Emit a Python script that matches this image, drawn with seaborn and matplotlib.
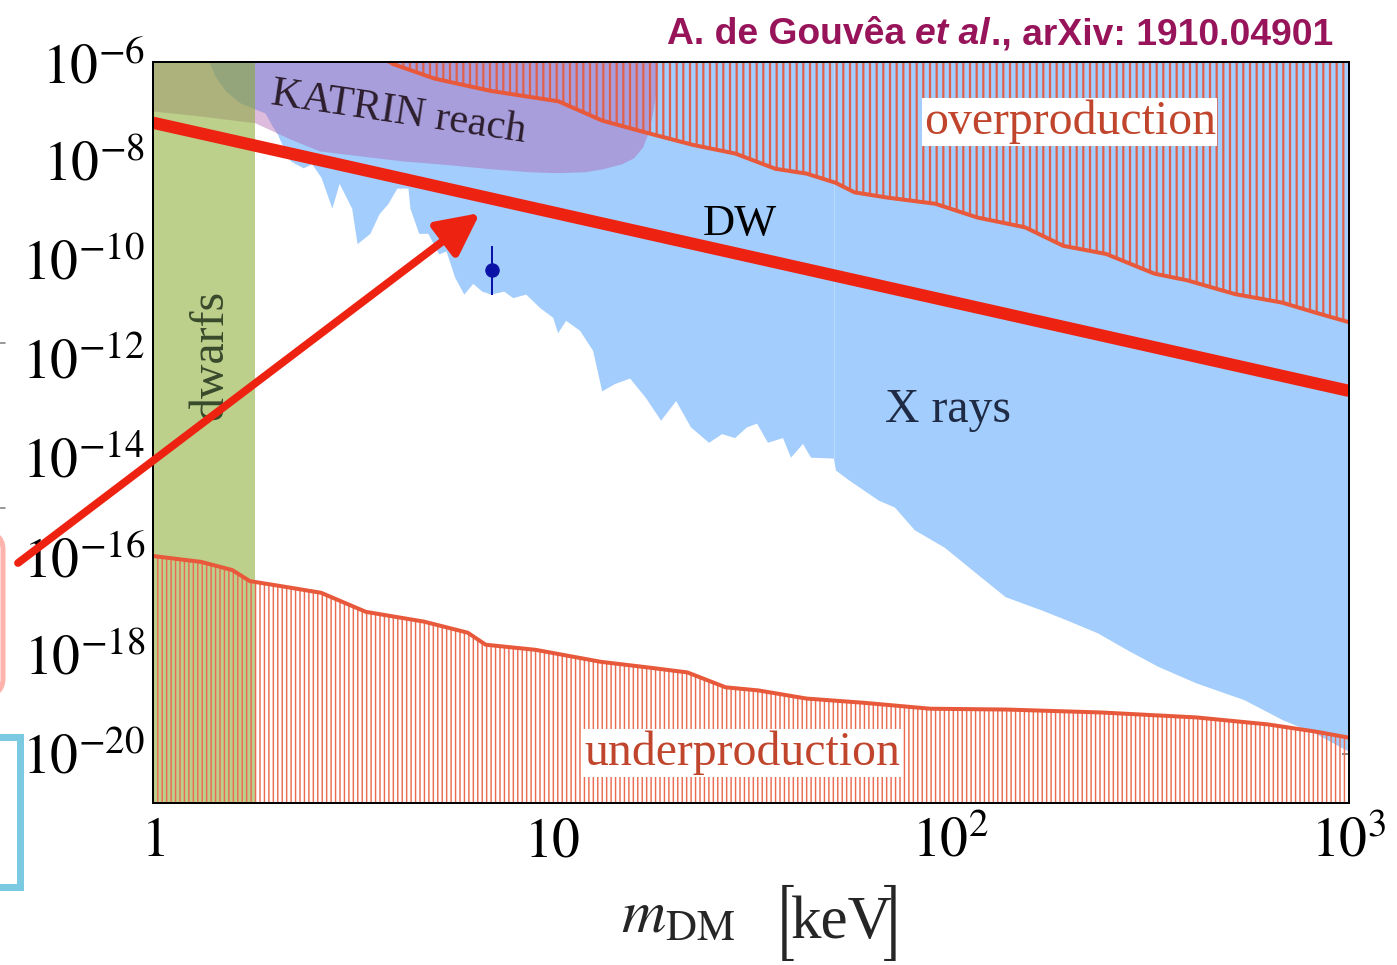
import matplotlib
matplotlib.use("Agg")
import matplotlib.pyplot as plt
import seaborn as sns
from matplotlib.patches import FancyArrowPatch, FancyBboxPatch
from matplotlib.lines import Line2D
from matplotlib.ticker import FixedLocator, FixedFormatter, NullLocator

# ---------------- data ----------------
# X-ray bound: lower edge of the blue excluded region (m in keV, mixing)
xray_m = [1.37, 1.43, 1.52, 1.65, 1.80, 1.91, 1.99, 2.05, 2.14, 2.21,
          2.38, 2.50, 2.64, 2.81, 2.93, 3.15, 3.25, 3.50, 3.69, 3.88,
          4.09, 4.36, 4.41, 4.64, 4.89, 5.21, 5.43, 5.71, 6.02, 6.34,
          6.68, 7.03, 7.58, 7.99, 8.61, 9.33, 10.06, 10.35, 10.84, 11.75,
          12.67, 13.35, 14.38, 15.69, 17.20, 18.76, 20.46, 22.30, 24.75, 26.68,
          28.75, 30.81, 32.65, 34.78, 37.93, 39.72, 42.57, 44.59, 50.9, 51.5,
          55.5, 66.0, 72.4, 81.2, 96.6, 115.6, 137.3, 169.1, 195.3, 233.6,
          277.7, 332.1, 413.5, 545.6, 679.3, 821.7, 1000.0]
xray_y = [1.2e-6, 5.2e-7, 2.6e-7, 1.5e-7, 1.12e-7, 9.3e-8, 5.1e-8, 3.5e-8, 1.6e-8, 1.0e-8,
          7.2e-9, 8.7e-9, 4.6e-9, 1.1e-9, 3.5e-9, 1.1e-9, 2.1e-10, 3.4e-10, 8.5e-10, 1.35e-9,
          2.8e-9, 2.8e-9, 1.1e-9, 3.4e-10, 3.4e-10, 1.3e-10, 1.5e-10, 4.4e-11, 2.0e-11, 3.3e-11,
          2.3e-11, 2.0e-11, 2.3e-11, 1.7e-11, 2.0e-11, 1.07e-11, 6.8e-12, 3.3e-12, 5.9e-12, 3.7e-12,
          1.45e-12, 2.2e-13, 3.1e-13, 4.0e-13, 1.6e-13, 5.6e-14, 1.4e-13, 4.1e-14, 2.0e-14, 3.0e-14,
          2.5e-14, 4.1e-14, 4.9e-14, 2.0e-14, 2.5e-14, 1.0e-14, 1.9e-14, 1.0e-14, 9.6e-15, 5.5e-15,
          3.5e-15, 1.35e-15, 9.8e-16, 3.4e-16, 1.5e-16, 4.6e-17, 1.5e-17, 8.1e-18, 5.1e-18, 2.8e-18,
          1.26e-18, 5.8e-19, 2.7e-19, 1.23e-19, 4.9e-20, 2.6e-20, 1.1e-20]
xray_join_m = 51.2
xray_join_y = 9.6e-15

# Overproduction boundary
over_m = [3.815, 4.0, 5.09, 7.03, 10.4, 13.4, 17.3, 22.6, 28.9, 36.4, 43.6, 51.5, 57.5,
          69.5, 91.7, 117.0, 154.0, 192.0, 246.0, 325.0, 393.0, 518.0, 679.0, 822.0, 1000.0]
over_y = [1.15e-6, 9.1e-7, 4.6e-7, 2.6e-7, 1.6e-7, 6.5e-8, 3.7e-8, 2.1e-8, 1.4e-8, 6.9e-9,
          5.5e-9, 3.6e-9, 2.3e-9, 1.8e-9, 1.35e-9, 7.1e-10, 4.5e-10, 1.9e-10, 1.3e-10, 5.2e-11,
          3.8e-11, 2.0e-11, 1.35e-11, 8.5e-12, 5.4e-12]

# Underproduction boundary
under_m = [1.0, 1.32, 1.58, 1.75, 2.20, 2.64, 3.42, 4.78, 6.16, 6.83, 9.12, 13.3, 17.6,
           21.9, 27.3, 33.0, 43.6, 60.5, 89.1, 138.0, 239.0, 414.0, 626.0, 822.0, 1000.0]
under_y = [1.0e-16, 7.6e-17, 5.2e-17, 3.1e-17, 2.3e-17, 1.8e-17, 7.4e-18, 4.7e-18, 2.8e-18,
           1.6e-18, 1.26e-18, 7.2e-19, 5.5e-19, 4.4e-19, 2.2e-19, 1.9e-19, 1.3e-19, 1.07e-19,
           8.1e-20, 7.8e-20, 6.8e-20, 5.4e-20, 3.9e-20, 2.8e-20, 2.1e-20]

# KATRIN reach (lower edge)
katrin_m = [1.0, 1.31, 1.80, 2.21, 2.62, 3.30, 4.21, 5.55, 7.03, 8.81, 10.35, 12.1, 13.42,
            14.98, 16.05, 16.91, 17.40, 17.81, 18.12, 18.34, 18.44]
katrin_y = [1.02e-7, 8.1e-8, 5.9e-8, 2.75e-8, 1.58e-8, 1.26e-8, 1.0e-8, 8.3e-9, 6.9e-9, 6.0e-9,
            5.75e-9, 6.0e-9, 6.9e-9, 8.7e-9, 1.15e-8, 1.9e-8, 3.5e-8, 7.4e-8, 1.6e-7, 4.2e-7, 1.3e-6]

# Dwarfs band and Dodelson-Widrow line
dwarfs_m = [1.0, 1.8]
dw_m = [1.0, 1000.0]
dw_y = [5.9e-8, 2.2e-13]

# 3.5 keV line point
point_m = 7.1
point_y = 6.3e-11
point_lo = 1.9e-11
point_hi = 1.9e-10

x_ticks = [1, 10, 100, 1000]
x_tick_labels = [r"$1$", r"$10$", r"$10^{2}$", r"$10^{3}$"]
y_ticks = [1e-6, 1e-8, 1e-10, 1e-12, 1e-14, 1e-16, 1e-18, 1e-20]
y_tick_labels = [r"$10^{-6}$", r"$10^{-8}$", r"$10^{-10}$", r"$10^{-12}$",
                 r"$10^{-14}$", r"$10^{-16}$", r"$10^{-18}$", r"$10^{-20}$"]

# ---------------- figure ----------------
W, H, DPI = 1397, 965, 80
sns.set_theme(style="white")
plt.rcParams.update({
    "font.family": ["Liberation Serif", "DejaVu Serif"],
    "mathtext.fontset": "stix",
    "axes.linewidth": 1.8,
    "axes.edgecolor": "black",
})

fig = plt.figure(figsize=(W / DPI, H / DPI), dpi=DPI, facecolor="white")


def fx(px):
    return px / W


def fy(py):
    return 1 - py / H


ax = fig.add_axes([fx(153), fy(803), fx(1349) - fx(153), fy(62) - fy(803)])
ax.set_xscale("log")
ax.set_yscale("log")
ax.set_xlim(1, 1000)
ax.set_ylim(1e-21, 1.0e-6)
ax.set_facecolor("white")

TOP, BOTTOM = 1e-5, 1e-23

ax.fill_between(xray_m, xray_y, TOP, color="#a3cdfc", lw=0, zorder=1)
ax.plot([xray_join_m, xray_join_m], [xray_join_y, TOP], color="#b9dafd", lw=0.9, zorder=1.5)
ax.fill_between(katrin_m, katrin_y, TOP, color="#ae5bae", alpha=0.41, lw=0, zorder=2)
ax.axvspan(dwarfs_m[0], dwarfs_m[1], color="#89ab33", alpha=0.57, lw=0, zorder=3)

plt.rcParams["hatch.linewidth"] = 1.3
plt.rcParams["hatch.color"] = "#ea6b52"
under = ax.fill_between(under_m, BOTTOM, under_y, facecolor="none", edgecolor="#ea6b52",
                        hatch="|||", lw=0, zorder=4)
plt.rcParams["hatch.linewidth"] = 2.0
plt.rcParams["hatch.color"] = "#e0604a"
over = ax.fill_between(over_m, over_y, TOP, facecolor="none", edgecolor="#e0604a",
                       hatch="||", lw=0, zorder=4)

sns.lineplot(x=under_m, y=under_y, ax=ax, color="#e8583a", lw=3.6, zorder=5,
             estimator=None, sort=False)
sns.lineplot(x=over_m, y=over_y, ax=ax, color="#e8583a", lw=3.6, zorder=5,
             estimator=None, sort=False)
sns.lineplot(x=dw_m, y=dw_y, ax=ax, color="#ee2211", lw=11, zorder=7,
             estimator=None, sort=False, solid_capstyle="butt")

ax.errorbar([point_m], [point_y], yerr=[[point_y - point_lo], [point_hi - point_y]],
            fmt="o", color="#0a12a8", ms=12, elinewidth=1.8, capsize=0, zorder=8)

# region labels
ax.text(0.205, 0.932, "KATRIN reach", transform=ax.transAxes, rotation=-8.5,
        ha="center", va="center", fontsize=38, color="#2d1e2d", zorder=9)
ax.text(0.7667, 0.919, "overproduction", transform=ax.transAxes, ha="center", va="center",
        fontsize=43, color="#c0452c", zorder=6,
        bbox=dict(facecolor="white", edgecolor="none", pad=1.5))
ax.text(0.4925, 0.0676, "underproduction", transform=ax.transAxes, ha="center", va="center",
        fontsize=43, color="#c0452c", zorder=6,
        bbox=dict(facecolor="white", edgecolor="none", pad=1.5))
ax.text(0.4908, 0.782, "DW", transform=ax.transAxes, ha="center", va="center",
        fontsize=40, color="black", zorder=9)
ax.text(0.6647, 0.531, "X rays", transform=ax.transAxes, ha="center", va="center",
        fontsize=43, color="#1f2b45", zorder=9)
ax.text(0.0477, 0.605, "dwarfs", transform=ax.transAxes, rotation=90, ha="center", va="center",
        fontsize=43, color="#394a2c", zorder=9)

# ticks
ax.xaxis.set_major_locator(FixedLocator(x_ticks))
ax.xaxis.set_major_formatter(FixedFormatter(x_tick_labels))
ax.xaxis.set_minor_locator(NullLocator())
ax.yaxis.set_major_locator(FixedLocator(y_ticks))
ax.yaxis.set_major_formatter(FixedFormatter(y_tick_labels))
ax.yaxis.set_minor_locator(NullLocator())
ax.tick_params(which="major", direction="in", length=6, width=1.5, color="#707070",
               labelsize=50, labelcolor="black", top=True, right=True)
ax.tick_params(axis="x", pad=12)
ax.tick_params(axis="y", pad=7)
ax.grid(False)
for s in ax.spines.values():
    s.set_color("black")
    s.set_linewidth(1.8)
    s.set_zorder(10)

# x label built from pieces (tall thin brackets from the STIX size font)
fig.text(fx(621), fy(933), r"$m_{\mathrm{DM}}$", ha="left", va="baseline", fontsize=55)
fig.text(fx(771), fy(964), "[", ha="left", va="bottom", fontsize=56,
         family=["STIXSizeOneSym", "DejaVu Sans"])
fig.text(fx(791), fy(938), "keV", ha="left", va="baseline", fontsize=55)
fig.text(fx(907), fy(964), "]", ha="right", va="bottom", fontsize=56,
         family=["STIXSizeOneSym", "DejaVu Sans"])

# citation line (mixed upright / italic)
renderer = fig.canvas.get_renderer()
title_color = "#98145a"
parts = [("A. de Gouvêa", "normal", 10.0), ("et al", "italic", 1.0), ("., arXiv: 1910.04901", "normal", 0.0)]
x_right = 1333.0
for idx in range(len(parts) - 1, -1, -1):
    text, style, _ = parts[idx]
    t = fig.text(fx(x_right), fy(44), text, ha="right", va="baseline", fontsize=33.5,
                 family=["Liberation Sans", "DejaVu Sans"], style=style, weight="bold",
                 color=title_color)
    bb = t.get_window_extent(renderer)
    x_right = bb.x0
    if idx > 0:
        x_right -= parts[idx - 1][2]

# ---------------- overlay annotations from the screenshot ----------------
arrow = FancyArrowPatch((fx(18), fy(563)), (fx(480), fy(213)), transform=fig.transFigure,
                        arrowstyle="-|>,head_length=32,head_width=16", mutation_scale=1,
                        color="#ee2211", lw=7, shrinkA=0, shrinkB=0, zorder=20)
fig.add_artist(arrow)

pink = FancyBboxPatch((fx(-300), fy(698)), fx(303), (698 - 530) / H,
                      boxstyle="round,pad=0,rounding_size=0.02", transform=fig.transFigure,
                      facecolor="none", edgecolor="#ffb3ad", lw=4.5, zorder=20)
fig.add_artist(pink)

bracket = Line2D([fx(-5), fx(20), fx(20), fx(-5)], [fy(737), fy(737), fy(887), fy(887)],
                 transform=fig.transFigure, color="#7cc9e2", lw=6.3,
                 solid_joinstyle="miter", zorder=20)
fig.add_artist(bracket)
for yy in (343, 508):
    fig.add_artist(Line2D([0, fx(5)], [fy(yy), fy(yy)], transform=fig.transFigure,
                          color="#888888", lw=1.5, zorder=20))

fig.savefig("out.png", dpi=DPI, facecolor="white")
